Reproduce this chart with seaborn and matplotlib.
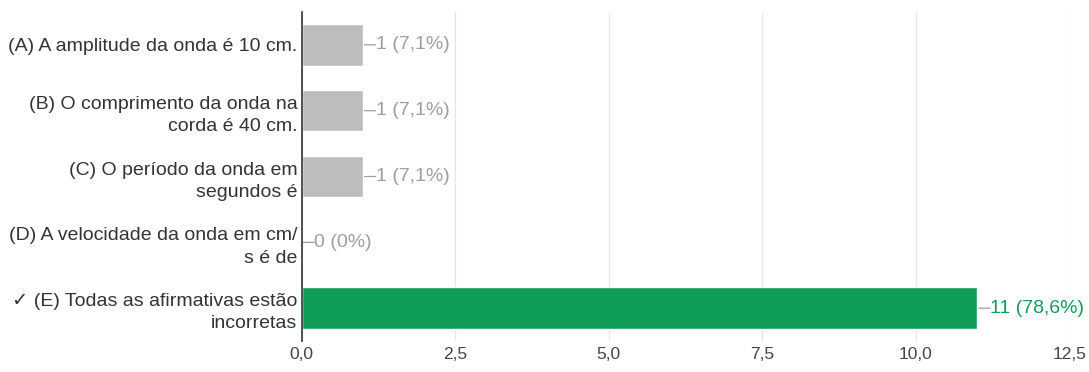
import matplotlib
matplotlib.use("Agg")
import matplotlib.pyplot as plt
import seaborn as sns
import pandas as pd

categories = [
    "(A) A amplitude da onda é 10 cm.",
    "(B) O comprimento da onda na\ncorda é 40 cm.",
    "(C) O período da onda em\nsegundos é",
    "(D) A velocidade da onda em cm/\ns é de",
    "✓ (E) Todas as afirmativas estão\nincorretas",
]
counts = [1, 1, 1, 0, 11]
labels = ["1 (7,1%)", "1 (7,1%)", "1 (7,1%)", "0 (0%)", "11 (78,6%)"]
correct = [False, False, False, False, True]
xticks = [0, 2.5, 5.0, 7.5, 10.0, 12.5]

sns.set_theme(style="white")
plt.rcParams['font.family'] = ['Liberation Sans', 'DejaVu Sans']

GREY = "#bdbdbd"
GREEN = "#0f9d58"

df = pd.DataFrame({"cat": categories, "count": counts, "ok": correct})
palette = [GREEN if c else GREY for c in correct]

fig = plt.figure(figsize=(10.89, 3.72), dpi=100)
ax = fig.add_axes([0.277, 0.083, 0.705, 0.885])
sns.barplot(data=df, y="cat", x="count", hue="cat", palette=palette,
            legend=False, width=0.63, ax=ax, saturation=1, orient="h")

ax.set_xlim(0, 12.5)
ax.set_xticks(xticks)
ax.set_xticklabels([f"{t:.1f}".replace(".", ",") for t in xticks],
                   fontsize=12.5, color="#444444")
ax.set_xlabel("")
ax.set_ylabel("")
ax.tick_params(axis="y", labelsize=14, labelcolor="#333333", length=0, pad=3)
ax.tick_params(axis="x", length=0, pad=4)
for lab in ax.get_yticklabels():
    lab.set_horizontalalignment("right")
    lab.set_multialignment("right")
    lab.set_linespacing(1.4)

ax.grid(axis="x", color="#e6e6e6", linewidth=0.9)
ax.set_axisbelow(True)
for s in ["top", "right", "bottom"]:
    ax.spines[s].set_visible(False)
ax.spines["left"].set_color("#333333")
ax.spines["left"].set_linewidth(1.2)
ax.spines["left"].set_zorder(5)

for i, (v, t, ok) in enumerate(zip(counts, labels, correct)):
    col = GREEN if ok else "#9e9e9e"
    ax.annotate("", xy=(v, i), xytext=(9, 0), textcoords="offset points",
                xycoords="data",
                arrowprops=dict(arrowstyle="-", color="#9e9e9e", lw=0.9,
                                shrinkA=0, shrinkB=1))
    ax.annotate(t, xy=(v, i), xytext=(9, 0), textcoords="offset points",
                va="center", ha="left", fontsize=14, color=col,
                annotation_clip=False)

fig.savefig("out.png", dpi=100)
